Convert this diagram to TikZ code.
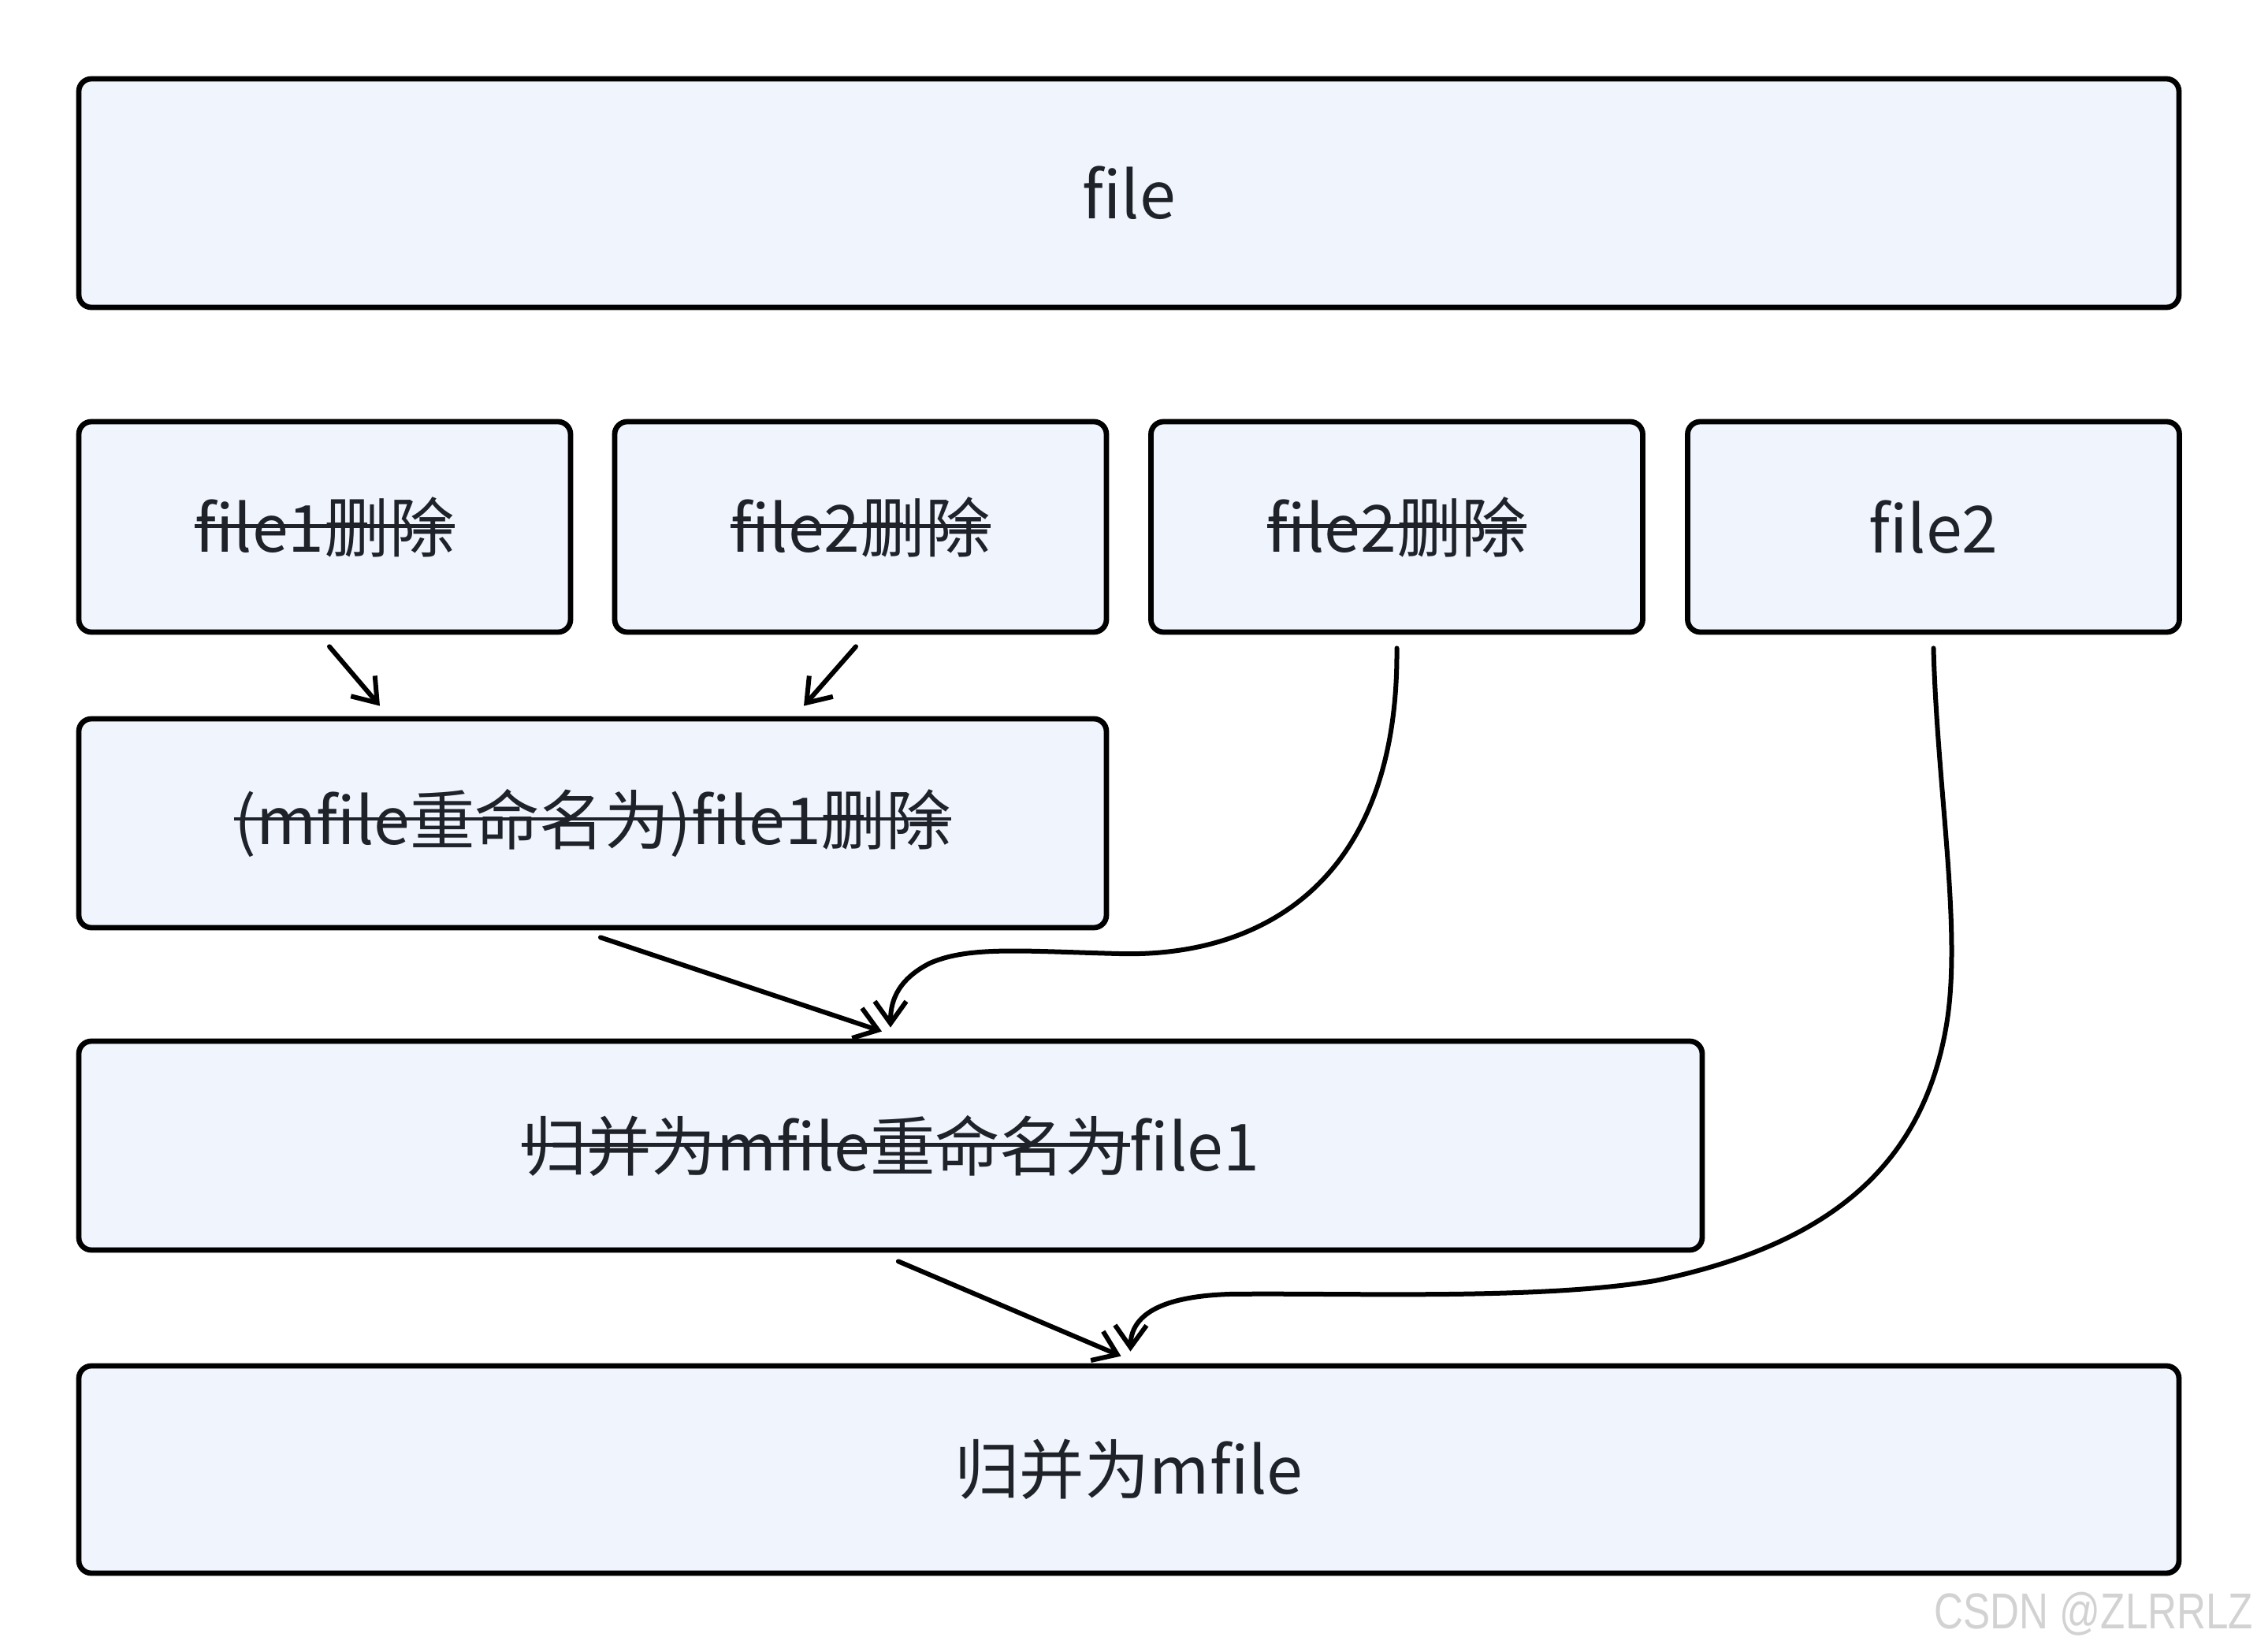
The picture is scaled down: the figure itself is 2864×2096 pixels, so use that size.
\documentclass[tikz,border=0pt]{standalone}
\usepackage{fontspec}
\setmainfont{Noto Sans CJK SC}
\newfontfamily\wmfont{Liberation Sans}
\usetikzlibrary{arrows.meta,calc}
\definecolor{boxfill}{RGB}{239,244,253}
\definecolor{txt}{RGB}{31,35,41}
\definecolor{wmcol}{RGB}{210,210,210}
\newcommand\mystrike[1]{\setbox0=\hbox{#1}\rlap{\color{txt}\rule[0.37em]{\wd0}{0.05em}}\box0}
\begin{document}
\begin{tikzpicture}[x=0.25pt,y=-0.25pt,
  box/.style={draw=black, line width=1.7pt, fill=boxfill, rounded corners=4pt,
    text=txt, font=\fontsize{20.6pt}{25pt}\selectfont, inner sep=0pt},
  conn/.style={line width=1.5pt, line cap=round, line join=round,
    -{Straight Barb[length=7pt,width=10pt,line width=1.5pt]}}]
\useasboundingbox (0,0) rectangle (2864,2096);
\fill[white] (0,0) rectangle (2864,2096);

\node[box, minimum width=666.25pt, minimum height=72.5pt] (nfile) at (1432.5,245) {file};

\node[box, minimum width=156pt, minimum height=66.75pt] (r1) at (412,668.5) {\mystrike{file1删除}};
\node[box, minimum width=156pt, minimum height=66.75pt] (r2) at (1092,668.5) {\mystrike{file2删除}};
\node[box, minimum width=156pt, minimum height=66.75pt] (r3) at (1772.5,668.5) {\mystrike{file2删除}};
\node[box, minimum width=156pt, minimum height=66.75pt] (r4) at (2453.5,668.5) {file2};

\node[box, minimum width=326pt, minimum height=66.25pt] (m1) at (752,1044.5) {\mystrike{(mfile重命名为)file1删除}};
\node[box, minimum width=515pt, minimum height=66.25pt] (m2) at (1130,1453.5) {\mystrike{归并为mfile重命名为}file1};
\node[box, minimum width=666.25pt, minimum height=65.75pt] (m3) at (1432.5,1864.5) {归并为mfile};

\node[font=\wmfont\fontsize{16pt}{18pt}\selectfont, text=wmcol, anchor=east, inner sep=0pt, xscale=0.8] (wm) at (2860,2048) {CSDN @ZLRRLZ};

% connectors
\draw[conn] ($(r1.south)+(6,15)$) -- ($(m1.north)+(-270,-13)$);
\draw[conn] ($(r2.south)+(-6,15)$) -- ($(m1.north)+(268,-13)$);
\draw[conn] ($(m1.south)+(10,9)$) -- ($(m2.north)+(-11,-9)$);
\draw[conn] ($(r3.south)+(0,17)$) .. controls (1775,1120) and (1600,1215) .. (1420,1210)
   .. controls (1300,1207) and (1230,1200) .. (1180,1222)
   .. controls (1135,1245) and (1130,1275) .. ($(m2.north)+(0,-14)$);
\draw[conn] ($(m2.south)+(10,11)$) -- ($(m3.north)+(-10,-9)$);
\draw[conn] ($(r4.south)+(0,17)$) .. controls (2458,1000) and (2490,1180) .. (2470,1300)
   .. controls (2440,1480) and (2320,1580) .. (2100,1625)
   .. controls (1950,1650) and (1700,1640) .. (1560,1642)
   .. controls (1470,1645) and (1435,1670) .. ($(m3.north)+(2,-15)$);
\end{tikzpicture}
\end{document}
